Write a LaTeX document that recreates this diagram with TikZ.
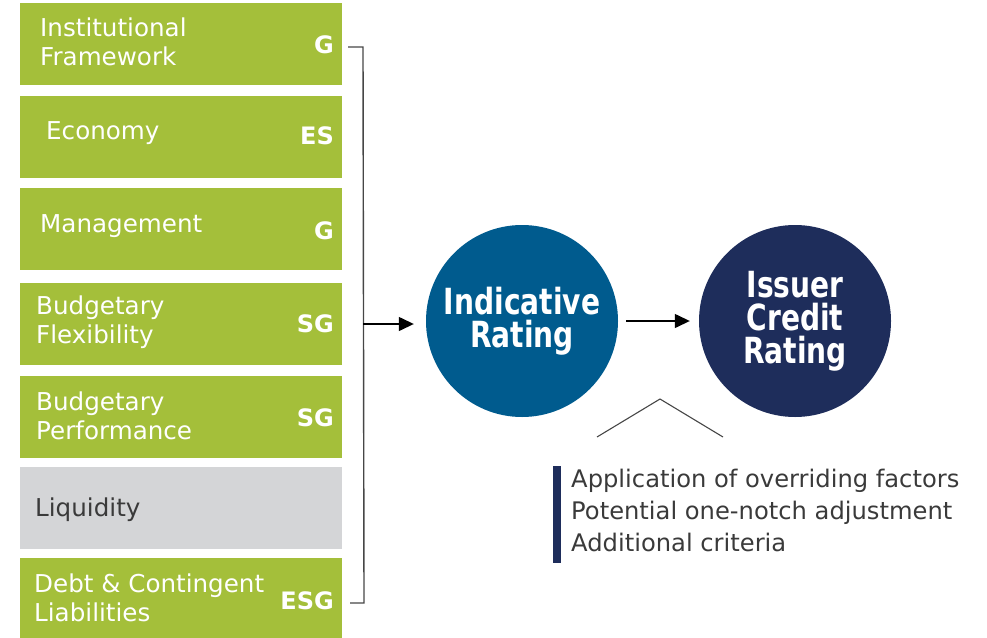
\documentclass[tikz,border=0pt]{standalone}
\usepackage{fontspec}
\setmainfont{DejaVu Sans}
\newfontfamily\circfont{DejaVu Sans Bold}[FakeStretch=0.78]
\usetikzlibrary{arrows.meta}
\definecolor{leafgreen}{RGB}{164,191,58}
\definecolor{paleGray}{RGB}{212,213,215}
\definecolor{oceanBlue}{RGB}{0,91,142}
\definecolor{deepNavy}{RGB}{30,45,91}
\definecolor{inkGray}{RGB}{58,58,58}
\definecolor{wireGray}{RGB}{70,70,70}
\tikzset{
  factor/.style={fill=leafgreen, draw=none, minimum width=322pt, minimum height=82pt, anchor=north west, inner sep=0pt},
  liqbox/.style={factor, fill=paleGray},
  factortext/.style={anchor=west, align=left, text=white, font=\fontsize{24.6}{29}\selectfont, inner sep=0pt},
  esglabel/.style={anchor=east, text=white, font=\bfseries\fontsize{24}{29}\selectfont, inner sep=0pt},
  rating/.style={circle, draw=none, minimum size=192pt, inner sep=0pt, text=white, align=center,
                 font=\circfont\fontsize{36}{33}\selectfont},
  bracket/.style={draw=wireGray, line width=1.4pt},
  flow/.style={draw=black, line width=1.4pt, -{Triangle[length=15pt,width=14pt]}},
  note/.style={anchor=base west, text=inkGray, font=\fontsize{24.2}{29}\selectfont, inner sep=0pt}
}
\begin{document}
\begin{tikzpicture}[x=1pt,y=-1pt]
\useasboundingbox (0,0) rectangle (987,637);

% factor boxes
\node[factor] (f1) at (20,3) {};
\node[factor] (f2) at (20,96) {};
\node[factor] (f3) at (20,188) {};
\node[factor] (f4) at (20,283) {};
\node[factor] (f5) at (20,376) {};
\node[liqbox] (f6) at (20,467) {};
\node[factor] (f7) at (20,558) {};

% factor names
\node[factortext] (t1) at (40,42) {Institutional\\Framework};
\node[factortext] (t2) at (46,133) {Economy};
\node[factortext] (t3) at (40,226) {Management};
\node[factortext] (t4) at (36,322) {Budgetary\\Flexibility};
\node[factortext] (t5) at (36,416) {Budgetary\\Performance};
\node[factortext, text=inkGray] (t6) at (35,510) {Liquidity};
\node[factortext] (t7) at (34,598) {Debt \& Contingent\\Liabilities};

% ESG tags
\node[esglabel] (g1) at (334,45) {G};
\node[esglabel] (g2) at (334,136) {ES};
\node[esglabel] (g3) at (334,231) {G};
\node[esglabel] (g4) at (334,324) {SG};
\node[esglabel] (g5) at (334,418) {SG};
\node[esglabel] (g7) at (334,601) {ESG};

% bracket collecting the factors
\coordinate (bt) at (348,47);
\coordinate (bti) at (363,47);
\coordinate (bbi) at (364,603);
\coordinate (bb) at (350,603);
\coordinate (bm) at (363,324);
\draw[bracket] (bt) -- (bti) -- (bbi) -- (bb);

% rating circles
\node[rating, fill=oceanBlue] (ind) at (522,321) {Indicative\\Rating};
\node[rating, fill=deepNavy] (icr) at (795,321) {Issuer\\Credit\\Rating};

\draw[flow, shorten >=12pt] (bm) -- (ind.west |- bm);
\draw[flow, shorten <=8pt, shorten >=9pt] (ind.east) -- (icr.west);

% chevron and adjustments
\coordinate (cl) at (597,437);
\coordinate (ct) at (660,399);
\coordinate (cr) at (723,437);
\draw[wireGray, line width=1.1pt] (cl) -- (ct) -- (cr);

\fill[deepNavy] (553,466) rectangle (561,563);
\node[note] (n1) at (571,487) {Application of overriding factors};
\node[note] (n2) at (571,519) {Potential one-notch adjustment};
\node[note] (n3) at (571,551) {Additional criteria};
\end{tikzpicture}
\end{document}
